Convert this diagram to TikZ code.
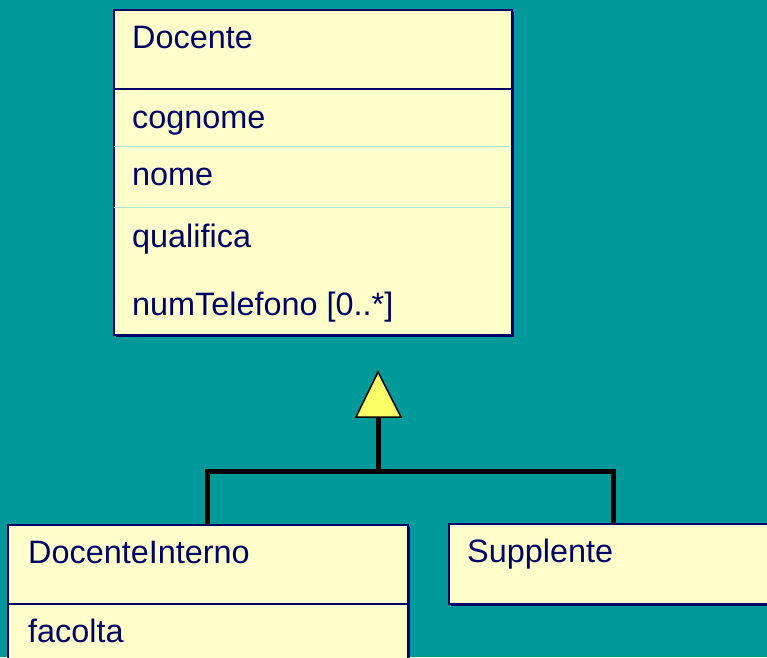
\documentclass[tikz,border=0pt]{standalone}
\usepackage{fontspec}
\setmainfont{Liberation Sans}
\usetikzlibrary{positioning,shadows}

\definecolor{slideteal}{HTML}{009999}
\definecolor{boxyellow}{HTML}{FFFFCC}
\definecolor{boxnavy}{HTML}{000066}
\definecolor{rulelight}{HTML}{B0E6D2}
\definecolor{tipyellow}{HTML}{FFFF66}

\tikzset{
  classbox/.style={draw=boxnavy, fill=boxyellow, line width=1.5pt, anchor=north west,
                   inner sep=0pt,
                   drop shadow={shadow xshift=2pt, shadow yshift=-2pt, fill=boxnavy, opacity=1}},
  attr/.style={anchor=base west, inner sep=0pt, text=boxnavy, font=\fontsize{32.4}{38}\selectfont},
  link/.style={line width=5pt, black}
}

\begin{document}
\begin{tikzpicture}[x=1pt,y=-1pt]

% slide
\clip (0,0) rectangle (767,657);
\fill[slideteal] (0,0) rectangle (767,657);

% superclass
\node[classbox, minimum width=398pt, minimum height=325pt] (docente) at (113,9) {};
\draw[boxnavy, line width=1.5pt] (113,89) -- (511,89);
\draw[rulelight, line width=0.8pt] (114,146) -- (510,146)
                                   (114,207) -- (510,207);
\node[attr] (docname) at (132,48) {Docente};
\node[attr] (cognome) at (132,128) {cognome};
\node[attr] (nome) at (132,185) {nome};
\node[attr] (qualifica) at (132,247) {qualifica};
\node[attr] (numtel) at (132,315) {numTelefono [0..*]};

% subclasses
\node[classbox, minimum width=400pt, minimum height=150pt] (interno) at (7,524) {};
\draw[boxnavy, line width=1.5pt] (7,604) -- (407,604);
\node[attr] (intname) at (28,563) {DocenteInterno};
\node[attr] (facolta) at (28,642) {facolta};

\node[classbox, minimum width=330pt, minimum height=80pt] (supplente) at (448,523) {};
\node[attr] (supname) at (467,562) {Supplente};

% generalization
\coordinate (apex) at (378,372);
\coordinate (tribase) at (378,417);
\coordinate (joint) at (378,471);
\draw[link] (tribase) -- (joint);
\draw[link] (joint) -| (interno.north);
\draw[link] (joint) -| (supplente.north);
\draw[black, line width=1.5pt, fill=tipyellow, line join=miter]
  (apex) -- (356,417) -- (401,417) -- cycle;
\end{tikzpicture}
\end{document}
